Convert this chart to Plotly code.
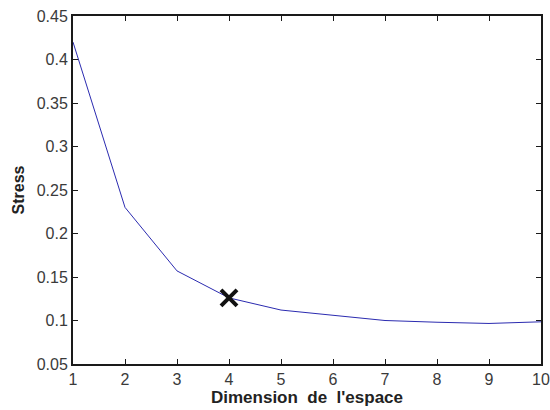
import plotly.graph_objects as go

dims = [1, 2, 3, 4, 5, 6, 7, 8, 9, 10]
stress = [0.420, 0.230, 0.157, 0.126, 0.112, 0.106, 0.100, 0.098, 0.0966, 0.0985]
chosen_dim = [4]
chosen_stress = [0.126]

x_ticks = [1, 2, 3, 4, 5, 6, 7, 8, 9, 10]
y_ticks = [0.05, 0.1, 0.15, 0.2, 0.25, 0.3, 0.35, 0.4, 0.45]
y_tick_labels = ["0.05", "0.1", "0.15", "0.2", "0.25", "0.3", "0.35", "0.4", "0.45"]

fig = go.Figure()
fig.add_trace(go.Scatter(x=dims, y=stress, mode="lines",
                         line=dict(color="#2b2bb0", width=1), showlegend=False))
fig.add_trace(go.Scatter(x=chosen_dim, y=chosen_stress, mode="markers",
                         marker=dict(symbol="x-thin", size=16, color="#111111",
                                     line=dict(width=4, color="#111111")),
                         showlegend=False))

axis_common = dict(showgrid=False, zeroline=False, showline=True, linecolor="#1a1a1a",
                   linewidth=2, mirror="ticks", ticks="inside", ticklen=5,
                   tickcolor="#1a1a1a", tickwidth=1, automargin=False,
                   ticklabeloverflow="allow",
                   tickfont=dict(family="Liberation Sans, Arial", size=16, color="#3a3a3a"))

fig.update_layout(
    width=550, height=410,
    margin=dict(l=73, r=9, t=16, b=46),
    paper_bgcolor="white", plot_bgcolor="white",
    xaxis=dict(range=[1, 10], tickvals=x_ticks, **axis_common,
               title=dict(text="<b>Dimension\u00a0\u00a0de\u00a0\u00a0l'espace</b>", standoff=2,
                          font=dict(family="Liberation Sans, Arial", size=17, color="#222222"))),
    yaxis=dict(range=[0.05, 0.45], tickvals=y_ticks, ticktext=y_tick_labels, **axis_common,
               title=dict(text="<b>Stress</b>", standoff=8,
                          font=dict(family="Liberation Sans, Arial", size=16, color="#222222"))),
)

fig.write_html("out.html", config={"displayModeBar": False},
               post_script="document.body.style.margin='0';")
